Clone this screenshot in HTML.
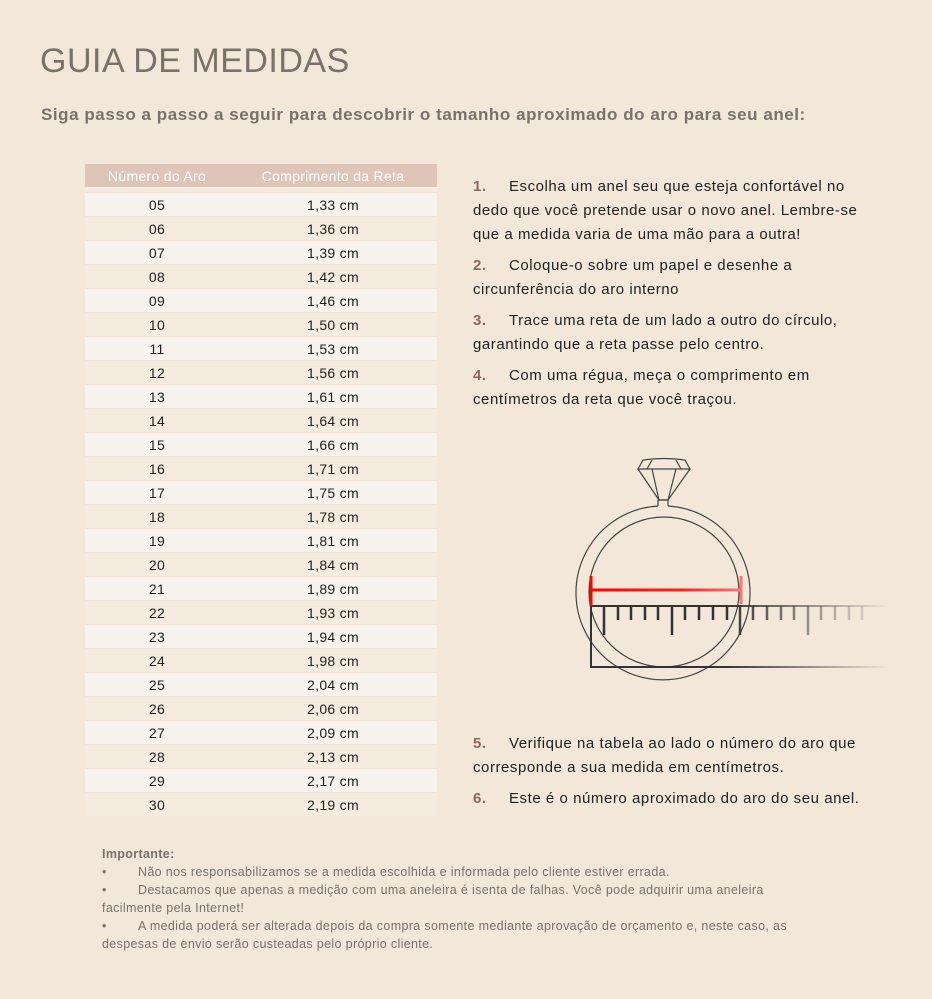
<!DOCTYPE html>
<html><head><meta charset="utf-8"><style>
body{margin:0;width:932px;height:999px;background:#f2e7d9;font-family:"Liberation Sans",sans-serif;position:relative;overflow:hidden}
h1{position:absolute;left:40px;top:42px;margin:0;font-weight:normal;font-size:34px;color:#7a716b;letter-spacing:0.5px}
.sub{position:absolute;left:41px;top:105px;font-size:17px;font-weight:bold;color:#7a716a;letter-spacing:0.55px}
table{position:absolute;left:85px;top:164px;width:352px;border-collapse:collapse;font-size:14px;color:#222;letter-spacing:0.3px}
th{background:#dfc5b8;color:#fff;font-weight:normal;height:23px;padding:0}
td{height:23px;padding:0;text-align:center;border-top:1px solid #efe4d6}
tr.s td{height:5px;background:transparent;border:0}
tr:nth-child(odd) td{background:#f8f3ec}
tr:nth-child(even) td{background:#f5ebdf}
.st{position:absolute;left:473px;font-size:15px;line-height:24px;color:#222;letter-spacing:0.55px}
.st b{color:#8a6a5e;display:inline-block;width:36px}
.imp{position:absolute;left:102px;top:845px;font-size:12.5px;line-height:18px;color:#7a716a;letter-spacing:0.35px}
.imp span{display:inline-block;width:36px}
</style></head><body>
<h1>GUIA DE MEDIDAS</h1>
<div class="sub">Siga passo a passo a seguir para descobrir o tamanho aproximado do aro para seu anel:</div>
<table>
<tr><th style="width:144px">Número do Aro</th><th>Comprimento da Reta</th></tr>
<tr class="s"><td colspan="2"></td></tr>
<tr><td>05</td><td>1,33 cm</td></tr><tr><td>06</td><td>1,36 cm</td></tr><tr><td>07</td><td>1,39 cm</td></tr><tr><td>08</td><td>1,42 cm</td></tr><tr><td>09</td><td>1,46 cm</td></tr><tr><td>10</td><td>1,50 cm</td></tr><tr><td>11</td><td>1,53 cm</td></tr><tr><td>12</td><td>1,56 cm</td></tr><tr><td>13</td><td>1,61 cm</td></tr><tr><td>14</td><td>1,64 cm</td></tr><tr><td>15</td><td>1,66 cm</td></tr><tr><td>16</td><td>1,71 cm</td></tr><tr><td>17</td><td>1,75 cm</td></tr><tr><td>18</td><td>1,78 cm</td></tr><tr><td>19</td><td>1,81 cm</td></tr><tr><td>20</td><td>1,84 cm</td></tr><tr><td>21</td><td>1,89 cm</td></tr><tr><td>22</td><td>1,93 cm</td></tr><tr><td>23</td><td>1,94 cm</td></tr><tr><td>24</td><td>1,98 cm</td></tr><tr><td>25</td><td>2,04 cm</td></tr><tr><td>26</td><td>2,06 cm</td></tr><tr><td>27</td><td>2,09 cm</td></tr><tr><td>28</td><td>2,13 cm</td></tr><tr><td>29</td><td>2,17 cm</td></tr><tr><td>30</td><td>2,19 cm</td></tr>
</table>
<div class="st" style="top:175px"><b>1.</b>Escolha um anel seu que esteja confortável no<br>dedo que você pretende usar o novo anel. Lembre-se<br>que a medida varia de uma mão para a outra!</div>
<div class="st" style="top:254px"><b>2.</b>Coloque-o sobre um papel e desenhe a<br>circunferência do aro interno</div>
<div class="st" style="top:309px"><b>3.</b>Trace uma reta de um lado a outro do círculo,<br>garantindo que a reta passe pelo centro.</div>
<div class="st" style="top:364px"><b>4.</b>Com uma régua, meça o comprimento em<br>centímetros da reta que você traçou.</div>
<div class="st" style="top:732px"><b>5.</b>Verifique na tabela ao lado o número do aro que<br>corresponde a sua medida em centímetros.</div>
<div class="st" style="top:787px"><b>6.</b>Este é o número aproximado do aro do seu anel.</div>
<svg style="position:absolute;left:0;top:0" width="932" height="999">
<defs>
<linearGradient id="g" x1="590" x2="890" gradientUnits="userSpaceOnUse"><stop offset="0" stop-color="#333"/><stop offset="0.45" stop-color="#333"/><stop offset="1" stop-color="#333" stop-opacity="0"/></linearGradient>
<linearGradient id="r" x1="590" x2="742" gradientUnits="userSpaceOnUse"><stop offset="0" stop-color="#f00"/><stop offset="0.6" stop-color="#f22"/><stop offset="1" stop-color="#f77"/></linearGradient>
</defs>
<g fill="none" stroke="#444" stroke-width="1.2">
<path d="M658 506 A87 87 0 1 0 668 506"/>
<circle cx="664" cy="592" r="75"/>
<path d="M658 506 V500 H668 V506"/>
<path d="M643 460 Q664 457 685 460 L690 469 L638 469 Z"/>
<path d="M638 469 L659 500 L668 500 L690 469 M652 469 L659 500 M676 469 L668 500 M652 460 L647 469 M676 460 L681 469"/>
</g>
<g stroke="url(#g)" fill="none">
<path d="M590 606 H890 M591 606 V667 H890" stroke-width="2"/>
<path d="M604 606V635M618 606V620M631 606V620M645 606V620M658 606V620M672 606V635M685 606V620M699 606V620M713 606V620M727 606V620M740 606V635M753 606V620M767 606V620M781 606V620M794 606V620M808 606V635M821 606V620M835 606V620M849 606V620M862 606V620" stroke-width="2.5"/>
</g>
<path d="M591 590 H741 M591 576 V606 M741 576 V604" stroke="url(#r)" stroke-width="3" fill="none"/>
</svg>
<div class="imp"><b>Importante:</b><br><span>•</span>Não nos responsabilizamos se a medida escolhida e informada pelo cliente estiver errada.<br><span>•</span>Destacamos que apenas a medição com uma aneleira é isenta de falhas. Você pode adquirir uma aneleira<br>facilmente pela Internet!<br><span>•</span>A medida poderá ser alterada depois da compra somente mediante aprovação de orçamento e, neste caso, as<br>despesas de envio serão custeadas pelo próprio cliente.</div>
</body></html>
